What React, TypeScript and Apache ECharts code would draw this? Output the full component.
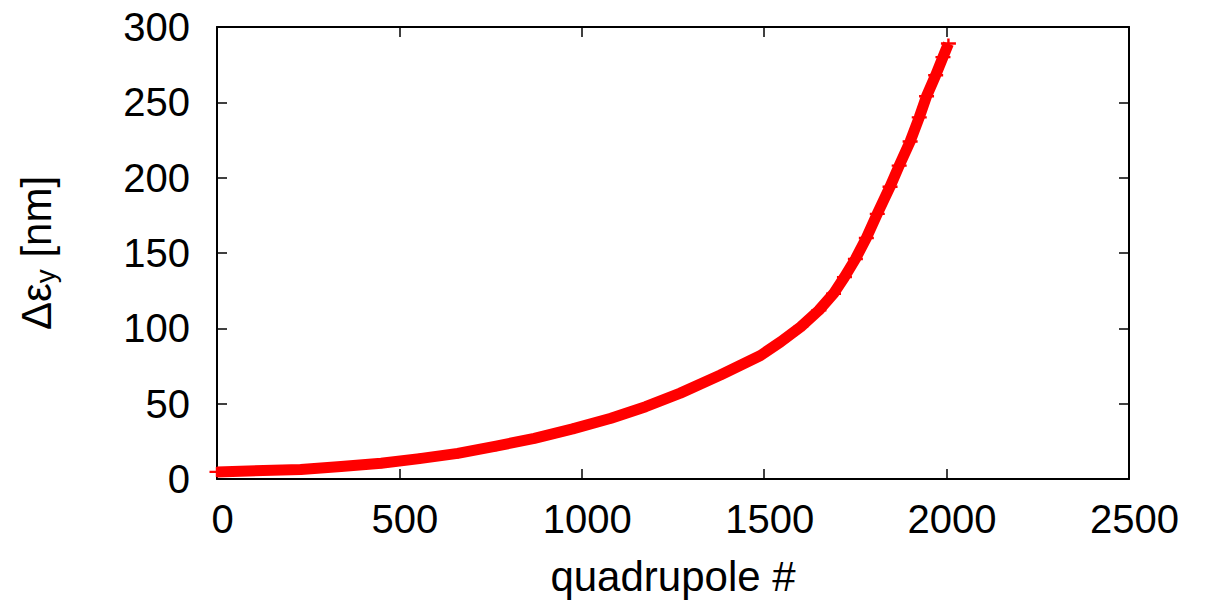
import React, { useEffect, useRef } from "react";
import * as echarts from "echarts";

const quadrupole = [0, 230, 340, 450, 555, 660, 765, 870, 975, 1080, 1175, 1270, 1380, 1490, 1545, 1600, 1650, 1690, 1720, 1750, 1780, 1810, 1845, 1870, 1900, 1925, 1945, 1970, 1990, 2005];
const deltaEmitY = [4.7, 6.3, 8.3, 10.5, 13.5, 17, 21.8, 27, 33.3, 40.3, 48, 57, 69, 82, 91, 101, 112, 123, 134, 146, 160, 176, 194, 208, 224, 240, 254, 268, 280, 289];
const xTicks = [0, 500, 1000, 1500, 2000, 2500];
const yTicks = [0, 50, 100, 150, 200, 250, 300];

const FONT = "'Liberation Sans', Arial, Helvetica, sans-serif";
const plusPath = "path://M0,3.8H15V6.2H0Z M6.3,0H8.7V10H6.3Z";

export default function App() {
  const ref = useRef<HTMLDivElement>(null);
  useEffect(() => {
    if (!ref.current) return;
    const chart = echarts.init(ref.current, undefined, { renderer: "svg" });
    const axisLine = { show: true, onZero: false, lineStyle: { color: "#000", width: 2 } };
    const tick = { show: true, inside: true, length: 10, lineStyle: { color: "#000", width: 1.5 } };
    chart.setOption({
      animation: false,
      backgroundColor: "#fff",
      grid: { left: 217, right: 76, top: 27, bottom: 130, containLabel: false },
      graphic: [
        {
          type: "text",
          x: 36,
          y: 253,
          rotation: Math.PI / 2,
          style: {
            text: "{a|Δε}{b|y}{a| [nm]}",
            align: "center",
            verticalAlign: "middle",
            fill: "#000",
            rich: {
              a: { fontFamily: FONT, fontSize: 42, lineHeight: 42, verticalAlign: "top", fill: "#000" },
              b: { fontFamily: FONT, fontSize: 28, lineHeight: 28, padding: [16, 0, 0, 0], verticalAlign: "top", fill: "#000" },
            },
          },
        },
      ],
      xAxis: [
        {
          type: "value",
          min: 0,
          max: 2500,
          interval: 500,
          position: "bottom",
          name: "quadrupole #",
          nameLocation: "middle",
          nameGap: 76,
          nameTextStyle: { fontFamily: FONT, fontSize: 42, color: "#000" },
          axisLine,
          axisTick: tick,
          splitLine: { show: false },
          axisLabel: {
            fontFamily: FONT,
            fontSize: 40,
            color: "#000",
            margin: 20,
            padding: [0, 0, 0, 11],
            formatter: (v: number) => (xTicks.includes(v) ? String(v) : ""),
          },
        },
        {
          type: "value",
          min: 0,
          max: 2500,
          interval: 500,
          position: "top",
          axisLine,
          axisTick: tick,
          splitLine: { show: false },
          axisLabel: { show: false },
        },
      ],
      yAxis: [
        {
          type: "value",
          min: 0,
          max: 300,
          interval: 50,
          position: "left",
          axisLine,
          axisTick: tick,
          splitLine: { show: false },
          axisLabel: {
            fontFamily: FONT,
            fontSize: 40,
            color: "#000",
            margin: 27,
            formatter: (v: number) => (yTicks.includes(v) ? String(v) : ""),
          },
        },
        {
          type: "value",
          min: 0,
          max: 300,
          interval: 50,
          position: "right",
          axisLine,
          axisTick: tick,
          splitLine: { show: false },
          axisLabel: { show: false },
        },
      ],
      series: [
        {
          type: "line",
          xAxisIndex: 0,
          yAxisIndex: 0,
          data: quadrupole.map((q, i) => [q, deltaEmitY[i]]),
          lineStyle: { color: "#ff0000", width: 11, cap: "butt", join: "round" },
          itemStyle: { color: "#ff0000" },
          symbol: plusPath,
          symbolSize: [15, 10],
          showSymbol: true,
          clip: false,
          z: 1,
        },
      ],
    });
    return () => chart.dispose();
  }, []);
  return <div ref={ref} style={{ width: 1205, height: 609, position: "absolute", left: 0, top: 0 }} />;
}
